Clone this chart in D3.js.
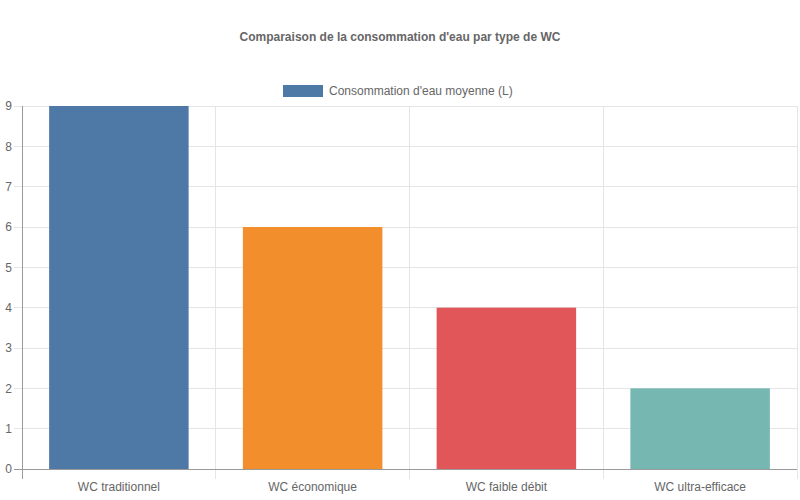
<!DOCTYPE html>
<html><head><meta charset="utf-8">
<script src="https://cdn.jsdelivr.net/npm/d3@7"></script>
<style>body{margin:0;background:#fff}svg{display:block}text{font-family:"Liberation Sans",Arial,sans-serif}</style>
</head><body><svg id="c" width="800" height="500"></svg>
<script>
const categories = ["WC traditionnel","WC économique","WC faible débit","WC ultra-efficace"];
const values = [9,6,4,2];
const colors = ["#4e79a7","#f28e2b","#e15759","#76b7b2"];
const yTicks = [0,1,2,3,4,5,6,7,8,9];
const title = "Comparaison de la consommation d'eau par type de WC";
const seriesName = "Consommation d'eau moyenne (L)";

const svg = d3.select("#c");
const L = 22, R = 797, T = 106, B = 469;
const x = d3.scaleBand().domain(categories).range([L,R]).paddingInner(0).paddingOuter(0);
const y = d3.scaleLinear().domain([0,9]).range([B,T]);

// grid
const g = svg.append("g");
yTicks.forEach(t=>{
  g.append("line").attr("x1",L-8).attr("x2",R).attr("y1",y(t)).attr("y2",y(t))
   .attr("stroke", t===0 ? "#999" : "#e5e5e5").attr("stroke-width",1).attr("shape-rendering","crispEdges");
  g.append("text").attr("x",L-10).attr("y",y(t)).attr("dy","0.35em").attr("text-anchor","end")
   .attr("font-size",12).attr("fill","#666").text(t);
});
const xs = categories.map(c=>x(c)).concat([R]);
xs.forEach((xx,i)=>{
  g.append("line").attr("x1",xx).attr("x2",xx).attr("y1",T).attr("y2",B+10)
   .attr("stroke", i===0 ? "#999" : "#e5e5e5").attr("stroke-width",1).attr("shape-rendering","crispEdges");
});
// re-draw x axis line on top of grid
// bars
const bw = x.bandwidth()*0.72;
svg.append("g").selectAll("rect").data(values).join("rect")
  .attr("x",(d,i)=>x(categories[i])+(x.bandwidth()-bw)/2)
  .attr("width",bw)
  .attr("y",d=>y(d)).attr("height",d=>B-y(d))
  .attr("fill",(d,i)=>colors[i]);
svg.append("line").attr("x1",L-8).attr("x2",R).attr("y1",B).attr("y2",B).attr("stroke","#999").attr("shape-rendering","crispEdges");
svg.append("line").attr("x1",L).attr("x2",L).attr("y1",T).attr("y2",B+10).attr("stroke","#999").attr("shape-rendering","crispEdges");

// x labels
categories.forEach(c=>{
  svg.append("text").attr("x",x(c)+x.bandwidth()/2).attr("y",487).attr("dy","0.35em")
   .attr("text-anchor","middle").attr("font-size",12).attr("fill","#666").text(c);
});

// title
svg.append("text").attr("x",400).attr("y",37).attr("dy","0.35em").attr("text-anchor","middle")
  .attr("font-size",12).attr("font-weight","bold").attr("fill","#666").text(title);

// legend
svg.append("rect").attr("x",283).attr("y",85).attr("width",40).attr("height",12).attr("fill",colors[0]);
svg.append("text").attr("x",329).attr("y",91).attr("dy","0.35em").attr("font-size",12).attr("fill","#666").text(seriesName);
</script></body></html>
